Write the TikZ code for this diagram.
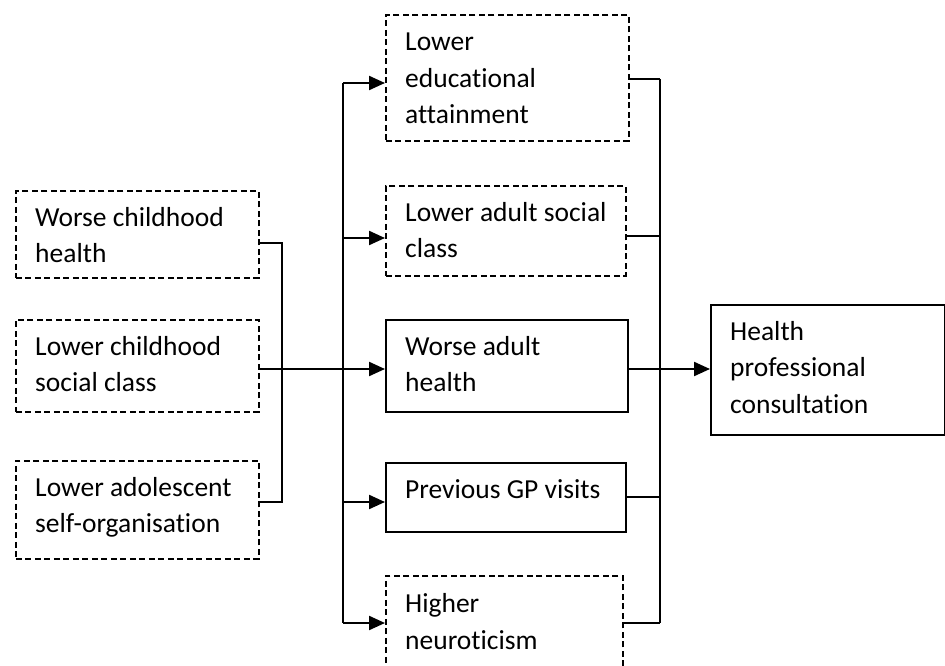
\documentclass[tikz,border=0pt]{standalone}
\usepackage{fontspec}
\setmainfont{Carlito}[Ligatures=NoCommon]
\usetikzlibrary{arrows.meta,calc}
\begin{document}
\begin{tikzpicture}[x=1pt,y=-1pt,
  dbox/.style={draw, dash pattern=on 6pt off 3.5pt, line width=1.6pt, inner sep=0pt, anchor=north west},
  sbox/.style={draw, line width=1.6pt, inner sep=0pt, anchor=north west},
  txt/.style={anchor=base west, align=left, inner sep=0pt, font=\fontsize{27.5}{36.5}\selectfont},
  conn/.style={line width=1.1pt},
  trunk/.style={line width=1.5pt},
  arr/.style={line width=2.2pt, -{Triangle[length=16pt,width=14pt]}}]
\useasboundingbox (0,0) rectangle (945,666);
\clip (0,0) rectangle (945,666);
% left boxes
\node[dbox, minimum width=243pt, minimum height=87pt] (b1) at (15,190) {};
\node[dbox, minimum width=243pt, minimum height=92pt] (b2) at (15,319) {};
\node[dbox, minimum width=243pt, minimum height=98pt] (b3) at (15,460) {};
\node[txt] (t1) at ($(b1.north west)+(20,72.5)$) {Worse childhood\\health};
\node[txt] (t2) at ($(b2.north west)+(20,72.5)$) {Lower childhood\\social class};
\node[txt] (t3) at ($(b3.north west)+(20,72.5)$) {Lower adolescent\\self-organisation};
% middle boxes
\node[dbox, minimum width=243pt, minimum height=126pt] (m1) at (385,14) {};
\node[dbox, minimum width=240pt, minimum height=90pt] (m2) at (385,185) {};
\node[sbox, minimum width=242pt, minimum height=92pt] (m3) at (385,319) {};
\node[sbox, minimum width=240pt, minimum height=69pt] (m4) at (385,462) {};
\node[dbox, minimum width=237pt, minimum height=110pt] (m5) at (385,575) {};
\node[txt] (u1) at ($(m1.north west)+(20,110)$) {Lower\\educational\\attainment};
\node[txt] (u2) at ($(m2.north west)+(20,72.5)$) {Lower adult social\\class};
\node[txt] (u3) at ($(m3.north west)+(20,72.5)$) {Worse adult\\health};
\node[txt] (u4) at ($(m4.north west)+(20,36)$) {Previous GP visits};
\node[txt] (u5) at ($(m5.north west)+(20,74)$) {Higher\\neuroticism};
% outcome box
\node[sbox, minimum width=234pt, minimum height=130pt] (h) at (710,304) {};
\node[txt] (v1) at ($(h.north west)+(20,109)$) {Health\\professional\\consultation};
% junction coordinates
\coordinate (lj) at (282,0);
\coordinate (tr) at (343,0);
\coordinate (rj) at (660,0);
% left bracket
\draw[conn] ($(b1.north east)+(0,53)$) -| (lj |- {$(b3.north east)+(0,42)$}) -- ($(b3.north east)+(0,42)$);
\draw[conn] ($(b2.north east)+(0,50)$) -- (tr |- {$(b2.north east)+(0,50)$});
% trunk
\draw[trunk] (tr |- {$(m1.north west)+(0,69)$}) -- (tr |- {$(m5.north west)+(0,48)$});
% arrows to middle boxes
\draw[arr] (tr |- {$(m1.north west)+(0,69)$}) -- ($(m1.north west)+(0,69)$);
\draw[arr] (tr |- {$(m2.north west)+(0,53)$}) -- ($(m2.north west)+(0,53)$);
\draw[arr] (tr |- {$(m3.north west)+(0,50)$}) -- ($(m3.north west)+(0,50)$);
\draw[arr] (tr |- {$(m4.north west)+(0,40)$}) -- ($(m4.north west)+(0,40)$);
\draw[arr] (tr |- {$(m5.north west)+(0,48)$}) -- ($(m5.north west)+(0,48)$);
% right collector
\draw[trunk] (rj |- {$(m1.north east)+(0,65)$}) -- (rj |- {$(m5.north east)+(0,48)$});
\draw[conn] ($(m1.north east)+(0,65)$) -- (rj |- {$(m1.north east)+(0,65)$});
\draw[conn] ($(m2.north east)+(0,51)$) -- (rj |- {$(m2.north east)+(0,51)$});
\draw[conn] ($(m3.north east)+(0,50)$) -- (rj |- {$(m3.north east)+(0,50)$});
\draw[conn] ($(m4.north east)+(0,35)$) -- (rj |- {$(m4.north east)+(0,35)$});
\draw[conn] ($(m5.north east)+(0,48)$) -- (rj |- {$(m5.north east)+(0,48)$});
\draw[arr] (rj |- {$(h.north west)+(0,65)$}) -- ($(h.north west)+(0,65)$);
\end{tikzpicture}
\end{document}
